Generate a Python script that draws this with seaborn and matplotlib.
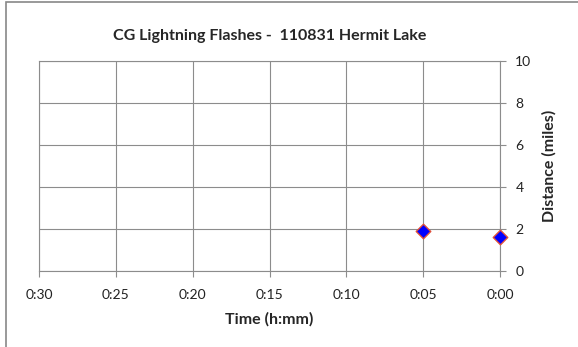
import matplotlib
matplotlib.use('Agg')
import matplotlib.pyplot as plt
import seaborn as sns
import pandas as pd
from matplotlib.patches import Rectangle

# minutes before the reference time, and distance in miles
minutes = [5, 0]
distance = [1.9, 1.6]
tick_minutes = [30, 25, 20, 15, 10, 5, 0]
tick_labels = ['0:30', '0:25', '0:20', '0:15', '0:10', '0:05', '0:00']
y_ticks = [0, 2, 4, 6, 8, 10]

sns.set_style('white')
plt.rcParams['font.family'] = ['Lato', 'DejaVu Sans']

df = pd.DataFrame({'Minutes': minutes, 'Distance': distance})

fig = plt.figure(figsize=(5.78, 3.47), dpi=100)
ax = fig.add_axes([0.0675, 0.219, 0.7976, 0.605])

sns.scatterplot(x='Minutes', y='Distance', data=df, ax=ax, marker='D', s=55,
                color='#0000ff', edgecolor='#e0503a', linewidth=1.0, zorder=5,
                clip_on=False)

ax.set_xlim(30, 0)
ax.set_ylim(0, 10)
ax.set_xticks(tick_minutes)
ax.set_xticklabels(tick_labels)
ax.set_yticks(y_ticks)
ax.yaxis.tick_right()
ax.yaxis.set_label_position('right')
ax.grid(True, color='#8c8c8c', linewidth=0.8)
ax.set_axisbelow(True)
for s in ax.spines.values():
    s.set_color('#8c8c8c')
    s.set_linewidth(0.8)
ax.tick_params(axis='both', which='both', length=4, color='#8c8c8c',
               labelsize=10, labelcolor='#222222')
ax.tick_params(axis='y', right=True, left=False, pad=7)
ax.tick_params(axis='x', bottom=True, pad=9)

ax.set_title('CG Lightning Flashes -  110831 Hermit Lake', fontsize=11.5,
             fontweight='bold', pad=15)
ax.set_xlabel('Time (h:mm)', fontsize=11.5, fontweight='bold', labelpad=8)
ax.set_ylabel('Distance (miles)', fontsize=11.5, fontweight='bold', labelpad=8)

# chart area border
fig.patches.append(Rectangle((6 / 578, -0.1), 2.0, 1 - 2 / 347 + 0.1,
                             transform=fig.transFigure, fill=False,
                             edgecolor='#888888', linewidth=1.2))

fig.savefig('out.png', dpi=100)
